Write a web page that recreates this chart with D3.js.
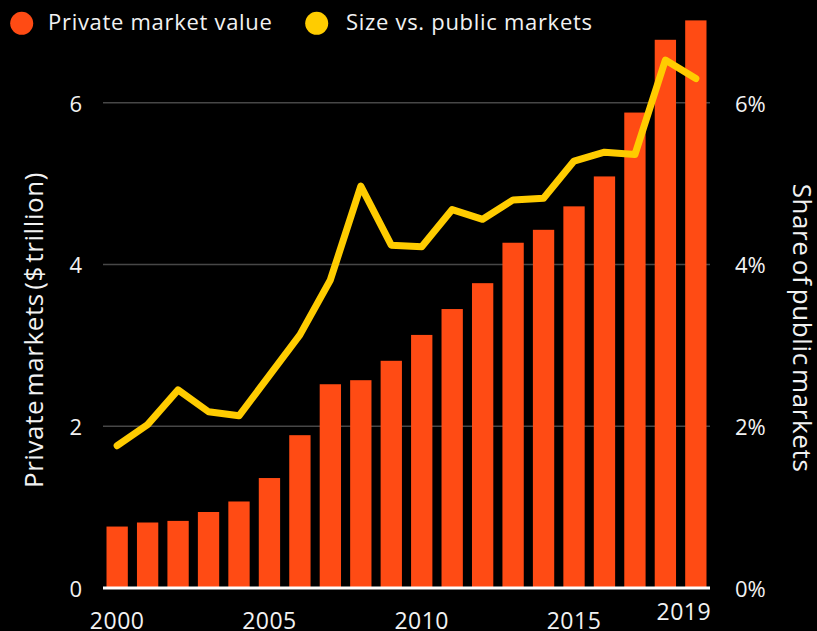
<!DOCTYPE html>
<html>
<head>
<meta charset="utf-8">
<script src="https://cdn.jsdelivr.net/npm/d3@7"></script>
<style>
  html, body { margin: 0; padding: 0; background: #000; }
  svg { display: block; }
  text { font-family: "Open Sans", "Noto Sans", sans-serif; fill: #f2f2f2; }
</style>
</head>
<body>
<svg id="chart" width="817" height="631"></svg>
<script>
const years = [2000,2001,2002,2003,2004,2005,2006,2007,2008,2009,2010,2011,2012,2013,2014,2015,2016,2017,2018,2019];
const privateValue = [0.76,0.81,0.83,0.94,1.07,1.36,1.89,2.52,2.57,2.81,3.13,3.45,3.77,4.27,4.43,4.72,5.09,5.88,6.78,7.02];
const sharePublic = [1.76,2.02,2.45,2.18,2.13,2.63,3.13,3.81,4.97,4.24,4.22,4.68,4.56,4.80,4.82,5.28,5.39,5.36,6.53,6.30];
const leftTicks = [0,2,4,6];
const rightTicks = [0,2,4,6];
const xTickYears = [2000,2005,2010,2015,2019];

const W = 817, H = 631;
const svg = d3.select("#chart");
const ORANGE = "#FF4B14", YELLOW = "#FFCC00";

const x = d3.scaleBand().domain(years).range([103, 710]).paddingInner(0.3).paddingOuter(0.115);
const yL = d3.scaleLinear().domain([0, 7]).range([588, 22]);
const yR = d3.scaleLinear().domain([0, 7]).range([588, 22]);

// gridlines
svg.append("g").selectAll("line").data(leftTicks.filter(d => d > 0)).join("line")
  .attr("x1", 103).attr("x2", 710)
  .attr("y1", d => yL(d)).attr("y2", d => yL(d))
  .attr("stroke", "#474747").attr("stroke-width", 1.5);

// bars
svg.append("g").selectAll("rect").data(years).join("rect")
  .attr("x", d => x(d))
  .attr("width", x.bandwidth())
  .attr("y", (d, i) => yL(privateValue[i]))
  .attr("height", (d, i) => yL(0) - yL(privateValue[i]))
  .attr("fill", ORANGE);

// baseline
svg.append("line").attr("x1", 103).attr("x2", 710).attr("y1", yL(0)).attr("y2", yL(0))
  .attr("stroke", "#fff").attr("stroke-width", 3);

// line
const line = d3.line()
  .x((d, i) => x(years[i]) + x.bandwidth() / 2)
  .y(d => yR(d));
svg.append("path").datum(sharePublic)
  .attr("d", line)
  .attr("fill", "none").attr("stroke", YELLOW)
  .attr("stroke-width", 7).attr("stroke-linejoin", "round").attr("stroke-linecap", "round");

// left axis labels
const leftAxis = d3.axisLeft(yL).tickValues(leftTicks).tickSize(0).tickPadding(0).tickFormat(d3.format("d"));
const gL = svg.append("g").attr("transform", "translate(82,0)").call(leftAxis);
gL.select(".domain").remove();
gL.selectAll("text").attr("font-size", 22).attr("fill", "#f2f2f2")
  .attr("font-family", "'Open Sans', sans-serif").attr("dy", "0.38em");

// right axis labels
const rightAxis = d3.axisRight(yR).tickValues(rightTicks).tickSize(0).tickPadding(0).tickFormat(d => d + "%");
const gR = svg.append("g").attr("transform", "translate(735,0)").call(rightAxis);
gR.select(".domain").remove();
gR.selectAll("text").attr("font-size", 22).attr("fill", "#f2f2f2")
  .attr("font-family", "'Open Sans', sans-serif").attr("dy", "0.38em");

// x labels
svg.append("g").selectAll("text").data(xTickYears).join("text")
  .attr("x", d => x(d) + x.bandwidth() / 2 + (d === 2019 ? -12 : 0))
  .attr("y", d => d === 2019 ? 620 : 629)
  .attr("text-anchor", "middle")
  .attr("font-size", 23)
  .attr("letter-spacing", 0.5)
  .text(d => d);

// axis titles
svg.append("text")
  .attr("transform", "translate(43,330) rotate(-90)")
  .attr("text-anchor", "middle")
  .attr("font-size", 26)
  .attr("letter-spacing", 0.6)
  .attr("word-spacing", -4)
  .text("Private markets ($ trillion)");
svg.append("text")
  .attr("transform", "translate(793,328) rotate(90)")
  .attr("text-anchor", "middle")
  .attr("font-size", 26)
  .attr("letter-spacing", 0.6)
  .attr("word-spacing", -4)
  .text("Share of public markets");

// legend
const legend = [
  {label: "Private market value", color: ORANGE, cx: 21.7, tx: 48},
  {label: "Size vs. public markets", color: YELLOW, cx: 316.7, tx: 346}
];
const lg = svg.append("g");
lg.selectAll("circle").data(legend).join("circle")
  .attr("cx", d => d.cx).attr("cy", 23.3).attr("r", 11.5).attr("fill", d => d.color);
lg.selectAll("text").data(legend).join("text")
  .attr("x", d => d.tx).attr("y", 29.5)
  .attr("font-size", 22).attr("letter-spacing", 0.7)
  .text(d => d.label);
</script>
</body>
</html>
